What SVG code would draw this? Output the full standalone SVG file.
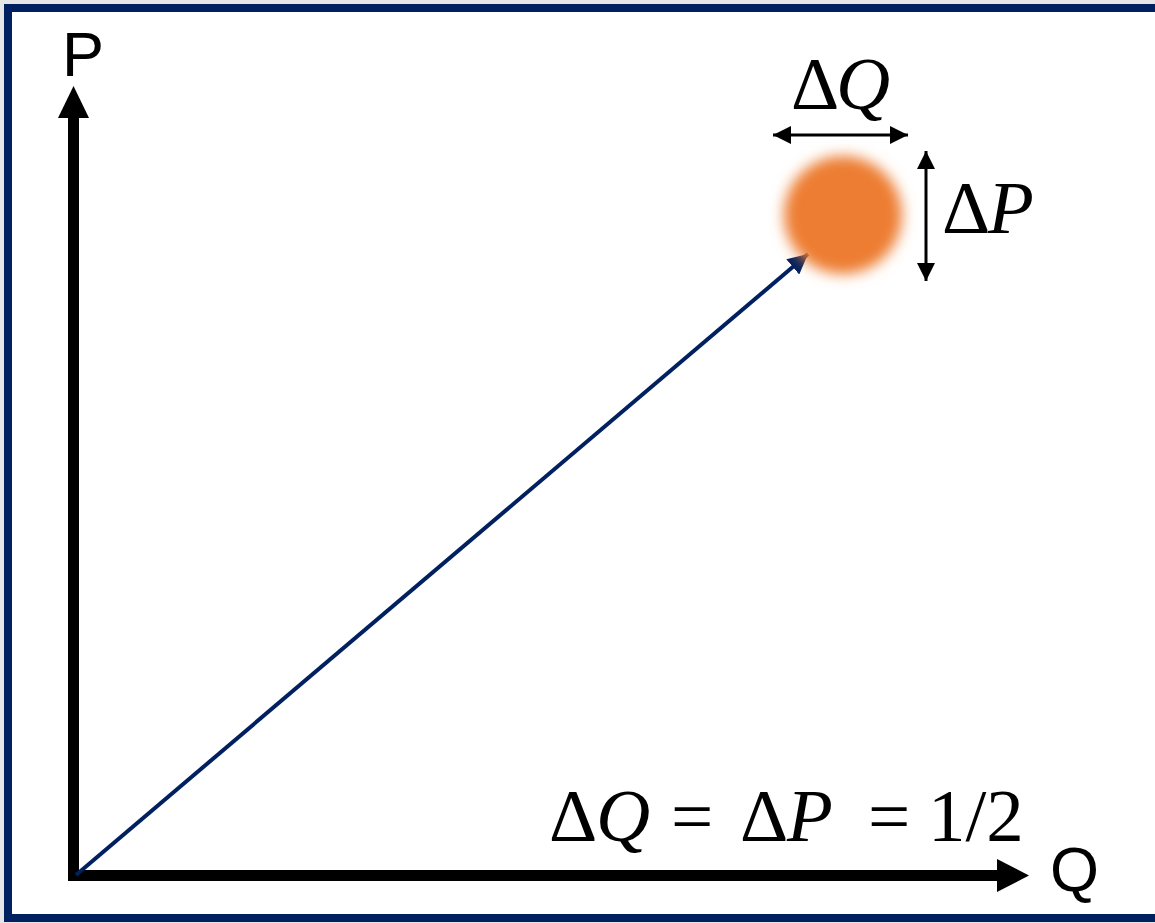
<svg xmlns="http://www.w3.org/2000/svg" width="1155" height="923" viewBox="0 0 1155 923">
<defs>
<style>
.ax{stroke:#000;stroke-width:11;fill:none}
.lbl{font-family:"Liberation Sans",Arial,sans-serif;font-size:63px;fill:#000}
.m{font-family:"Liberation Serif","Times New Roman",serif;font-size:75px;fill:#000}
.it{font-style:italic}
.dim{stroke:#000;stroke-width:3;fill:none}
</style>
<marker id="dh" viewBox="0 0 10 10" refX="10" refY="5" markerWidth="6" markerHeight="6" markerUnits="strokeWidth" orient="auto-start-reverse"><path d="M0,0 L10,5 L0,10 Z" fill="#000"/></marker>
<marker id="bh" viewBox="0 0 10 10" refX="10" refY="5" markerWidth="5" markerHeight="5" markerUnits="strokeWidth" orient="auto"><path d="M0,0 L10,5 L0,10 Z" fill="#002060"/></marker>
<filter id="soft" x="-50%" y="-50%" width="200%" height="200%"><feGaussianBlur stdDeviation="7"/></filter>
</defs>
<rect x="0" y="0" width="1155" height="923" fill="#e6e6e6"/>
<rect x="8" y="8" width="1160" height="910" fill="#fff" stroke="#002060" stroke-width="8"/>
<g id="connectors">
<line class="ax" x1="73.5" y1="875" x2="73.5" y2="110"/>
<path d="M73.5,86 L89,118 L58,118 Z" fill="#000"/>
<line class="ax" x1="68" y1="875.5" x2="1000" y2="875.5"/>
<path d="M1029,875.5 L997,859 L997,892 Z" fill="#000"/>
<line x1="76" y1="875" x2="808" y2="254" stroke="#002060" stroke-width="4" marker-end="url(#bh)"/>
<line class="dim" x1="773" y1="135" x2="908" y2="135" marker-start="url(#dh)" marker-end="url(#dh)"/>
<line class="dim" x1="926" y1="151" x2="926" y2="281" marker-start="url(#dh)" marker-end="url(#dh)"/>
</g>
<g id="particle">
<circle cx="843" cy="215" r="59" fill="#ED7D31" filter="url(#soft)"/>
</g>
<g id="labels">
<text class="lbl" x="62" y="76">P</text>
<text class="lbl" x="1050" y="891">Q</text>
<text class="m" x="791" y="109">Δ<tspan class="it" x="836">Q</tspan></text>
<text class="m" x="942" y="233">Δ<tspan class="it" x="988">P</tspan></text>
<text class="m" x="549" y="841">Δ<tspan class="it" x="596">Q</tspan><tspan x="671">=</tspan><tspan x="740">Δ</tspan><tspan class="it" x="787">P</tspan><tspan x="868">=</tspan><tspan x="928">1/2</tspan></text>
</g>
</svg>
